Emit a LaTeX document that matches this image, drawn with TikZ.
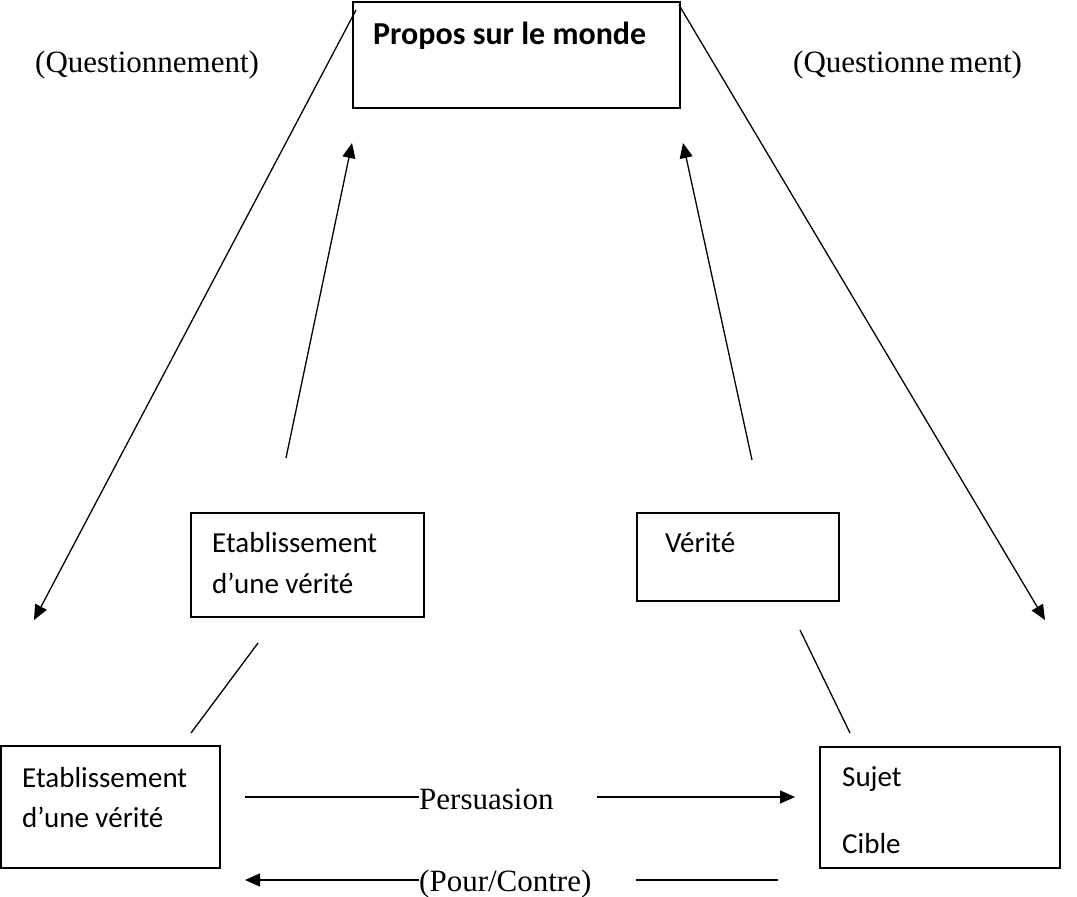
\documentclass[tikz,border=0pt]{standalone}
\usepackage{fontspec}
\setmainfont{Liberation Serif}
\newfontfamily\calfont{Carlito}
\usetikzlibrary{arrows.meta}
\begin{document}
\begin{tikzpicture}[x=1pt,y=-1pt,
  box/.style={draw, line width=1.8pt, inner sep=0pt},
  ctext/.style={anchor=base west, inner sep=0pt, font=\calfont\fontsize{29}{35}\selectfont},
  ttext/.style={anchor=base west, inner sep=0pt, font=\fontsize{31}{37}\selectfont},
  conn/.style={line width=1.3pt},
  arr/.style={conn, -{Triangle[length=15pt,width=13pt]}}]
\useasboundingbox (0,0) rectangle (1077,897);
% boxes
\node[box, minimum width=327pt, minimum height=106pt] (topbox) at (516.5,55) {};
\node[box, minimum width=233pt, minimum height=104pt] (midl) at (307.5,565) {};
\node[box, minimum width=202pt, minimum height=88pt] (midr) at (738,557) {};
\node[box, minimum width=219pt, minimum height=122pt] (botl) at (110.5,807) {};
\node[box, minimum width=240pt, minimum height=121pt] (botr) at (940,807.5) {};
% texts
\node[anchor=base west, inner sep=0pt, font=\calfont\bfseries\fontsize{32}{38}\selectfont] (ttl) at (373,44) {Propos sur le monde};
\node[ttext] (qleft) at (35,72) {(Questionnement)};
\node[ttext] (qright) at (793,72) {(Questionne\kern5pt ment)};
\node[ctext] (ml1) at (212,552) {Etablissement};
\node[ctext] (ml2) at (212,593) {d’une vérité};
\node[ctext] (mr1) at (665,552) {Vérité};
\node[ctext] (bl1) at (22,787) {Etablissement};
\node[ctext] (bl2) at (22,827) {d’une vérité};
\node[ctext] (br1) at (842,786) {Sujet};
\node[ctext] (br2) at (842,853) {Cible};
\node[ttext] (pers) at (419,809) {Persuasion};
\node[ttext] (pour) at (419,891) {(Pour/Contre)};
% free ends
\coordinate (dl1) at (356,10);
\coordinate (dl2) at (34,620);
\coordinate (dr1) at (679,5);
\coordinate (dr2) at (1045,620);
\coordinate (ul1) at (286,458);
\coordinate (ul2) at (352,143);
\coordinate (ur1) at (752,460);
\coordinate (ur2) at (683,143);
\coordinate (sl1) at (258,643);
\coordinate (sl2) at (191,733);
\coordinate (sr1) at (800,630);
\coordinate (sr2) at (850,733);
\coordinate (pa) at (245,797);
\coordinate (pb) at (419,797);
\coordinate (pc) at (597,797);
\coordinate (pd) at (795,797);
\coordinate (qa) at (245,880);
\coordinate (qb) at (419,880);
\coordinate (qc) at (636,880);
\coordinate (qd) at (778,880);
% connectors
\draw[arr] (dl1) -- (dl2);
\draw[arr] (dr1) -- (dr2);
\draw[arr] (ul1) -- (ul2);
\draw[arr] (ur1) -- (ur2);
\draw[conn] (sl1) -- (sl2);
\draw[conn] (sr1) -- (sr2);
\draw[conn] (pa) -- (pb);
\draw[arr] (pc) -- (pd);
\draw[arr] (qb) -- (qa);
\draw[conn] (qd) -- (qc);
\end{tikzpicture}
\end{document}
